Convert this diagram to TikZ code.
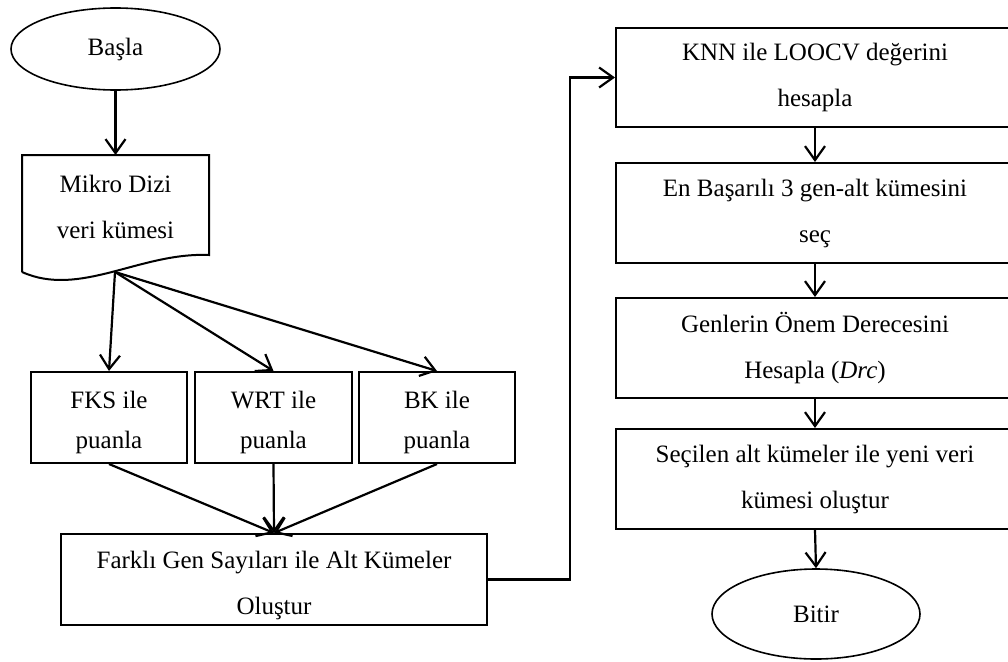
\documentclass[tikz,border=0pt]{standalone}
\usepackage{fontspec}
\setmainfont{Liberation Serif}
\usetikzlibrary{shapes.geometric,arrows.meta}
\tikzset{
  every node/.style={font=\fontsize{25}{46}\selectfont, align=center, inner sep=0pt},
  procbox/.style={draw, line width=2pt, rectangle},
  termbox/.style={draw, line width=1.6pt, ellipse},
  arr/.style={line width=2.2pt, -{Straight Barb[length=14pt,width=20pt,line width=2.2pt]}},
}
\newcommand{\lowtext}[2]{\raisebox{-#1}[\height][\depth]{\shortstack[c]{#2}}}
\begin{document}
\begin{tikzpicture}[x=1pt,y=-1pt]
\clip (0,0) rectangle (1008,661);
\fill[white] (0,0) rectangle (1008,661);
% nodes
\node[termbox, minimum width=209, minimum height=82] (start) at (115.5,49) {Başla};
\node (data) at (115.5,207) {Mikro Dizi\\veri kümesi};
\draw[line width=2pt, line join=miter] (22,272) -- (22,155) -- (209,155) -- (209,255)
  .. controls (140,252) and (80,298) .. (22,272);
\coordinate (dataout) at (115,272);
\node[procbox, minimum width=156, minimum height=91] (fks) at (109,417.5) {\lowtext{5pt}{FKS ile\\[20pt]puanla}};
\node[procbox, minimum width=157, minimum height=91] (wrt) at (273.5,417.5) {\lowtext{5pt}{WRT ile\\[20pt]puanla}};
\node[procbox, minimum width=156, minimum height=91] (bk) at (437,417.5) {\lowtext{5pt}{BK ile\\[20pt]puanla}};
\node[procbox, minimum width=426, minimum height=91] (sub) at (274,579.5) {\lowtext{6pt}{Farklı Gen Sayıları ile Alt Kümeler\\[20pt]Oluştur}};
\node[procbox, minimum width=398, minimum height=99] (knn) at (815,77.5) {KNN ile LOOCV değerini\\hesapla};
\node[procbox, minimum width=398, minimum height=100] (best) at (815,213) {En Başarılı 3 gen-alt kümesini\\seç};
\node[procbox, minimum width=398, minimum height=100] (genl) at (815,348) {Genlerin Önem Derecesini\\Hesapla (\textit{Drc})};
\node[procbox, minimum width=398, minimum height=100] (secil) at (815,479) {Seçilen alt kümeler ile yeni veri\\kümesi oluştur};
\node[termbox, minimum width=208, minimum height=90] (bitir) at (816,614) {Bitir};
% connectors
\draw[arr] (start.south) -- (data.north |- 0,155);
\draw[arr] (dataout) -- (fks.north);
\draw[arr] (dataout) -- (wrt.north);
\draw[arr] (dataout) -- (bk.north);
\draw[arr] (fks.south) -- (sub.north);
\draw[arr] (wrt.south) -- (sub.north);
\draw[arr] (bk.south) -- (sub.north);
\draw[arr] (sub.east) -- ++(82,0) |- (knn.west);
\draw[arr] (knn.south) -- (best.north);
\draw[arr] (best.south) -- (genl.north);
\draw[arr] (genl.south) -- (secil.north);
\draw[arr] (secil.south) -- (bitir.north);
\end{tikzpicture}
\end{document}
